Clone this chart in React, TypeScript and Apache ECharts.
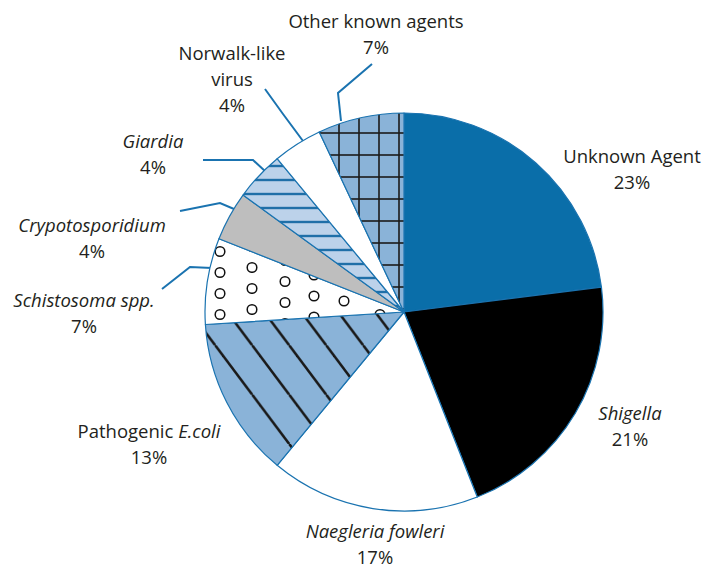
import React, { useEffect, useRef } from "react";
import * as echarts from "echarts";

// ---------- data ----------
const categories = [
  "Unknown Agent",
  "Shigella",
  "Naegleria fowleri",
  "Pathogenic E.coli",
  "Schistosoma spp.",
  "Crypotosporidium",
  "Giardia",
  "Norwalk-like virus",
  "Other known agents",
];
const values = [23, 21, 17, 13, 7, 4, 4, 4, 7];
// label text lines (rich markup: n = normal, i = italic)
const labelNameLines = [
  ["{n|Unknown Agent}"],
  ["{i|Shigella}"],
  ["{i|Naegleria fowleri}"],
  ["{n|Pathogenic }{i|E.coli}"],
  ["{i|Schistosoma spp.}"],
  ["{i|Crypotosporidium}"],
  ["{i|Giardia}"],
  ["{n|Norwalk-like}", "{n|virus}"],
  ["{n|Other known agents}"],
];

// ---------- layout / style ----------
const CX = 404;
const CY = 312;
const R = 199;
const BLUE_LINE = "#1a73b0";
const TEXT = "#231f20";
const FONT = "'Open Sans', sans-serif";
const FS = 18.5;
const LH = 26;

// label centres (offsets from pie centre)
const labelOffsets: [number, number][] = [
  [228, -144],
  [226, 113],
  [-29, 231],
  [-255, 131],
  [-320, 0],
  [-312, -75],
  [-251, -159],
  [-172, -234],
  [-28, -279],
];
// leader lines (offsets from pie centre), null = none
const leaderOffsets: ([number, number][] | null)[] = [
  null,
  null,
  null,
  null,
  [[-192, -44], [-214, -45], [-242, -23]],
  [[-170, -103], [-184, -109], [-224, -101]],
  [[-138, -140], [-151, -152], [-201, -152]],
  [[-101, -171], [-121, -198], [-139, -223]],
  [[-63, -191], [-66, -219], [-32, -248]],
];

function svgUrl(svg: string) {
  return "data:image/svg+xml;charset=utf-8," + encodeURIComponent(svg);
}

function gridPattern() {
  const w = 20, h = 22;
  const svg = `<svg xmlns="http://www.w3.org/2000/svg" width="${w}" height="${h}"><rect width="${w}" height="${h}" fill="#8ab3d8"/><line x1="19" y1="0" x2="19" y2="${h}" stroke="#1a1a1a" stroke-width="1.6"/><line x1="0" y1="1" x2="${w}" y2="1" stroke="#1a1a1a" stroke-width="1.6"/></svg>`;
  return { image: svgUrl(svg), repeat: "repeat", imageWidth: w, imageHeight: h };
}

function diagPattern() {
  const w = 37, h = 49.3333;
  let lines = "";
  for (let k = -2; k <= 1; k++) {
    const x0 = 30.25 + 37 * k;
    lines += `<line x1="${x0}" y1="0" x2="${x0 + 37}" y2="${h}" stroke="#1a1a1a" stroke-width="2.6"/>`;
  }
  const svg = `<svg xmlns="http://www.w3.org/2000/svg" width="${w}" height="${h}"><rect width="${w}" height="${h}" fill="#8ab3d8"/>${lines}</svg>`;
  return { image: svgUrl(svg), repeat: "repeat", imageWidth: w, imageHeight: h };
}

function hlinePattern() {
  const w = 10, h = 14;
  const svg = `<svg xmlns="http://www.w3.org/2000/svg" width="${w}" height="${h}"><rect width="${w}" height="${h}" fill="#bcd2ea"/><line x1="0" y1="12" x2="${w}" y2="12" stroke="#1f6fa8" stroke-width="2.4"/></svg>`;
  return { image: svgUrl(svg), repeat: "repeat", imageWidth: w, imageHeight: h };
}

function circlePattern() {
  const w = 160, h = 21;
  const cols: [number, number][] = [[60, 20.5], [92, 15.5], [125, 8.5], [154, 2], [24, 7]];
  let circles = "";
  cols.forEach(([x, y]) => {
    for (const dy of [-h, 0, h]) {
      for (const dx of [-w, 0, w]) {
        circles += `<circle cx="${x + dx}" cy="${y + dy}" r="4.8" fill="none" stroke="#111" stroke-width="1.5"/>`;
      }
    }
  });
  const svg = `<svg xmlns="http://www.w3.org/2000/svg" width="${w}" height="${h}"><rect width="${w}" height="${h}" fill="#ffffff"/>${circles}</svg>`;
  return { image: svgUrl(svg), repeat: "repeat", imageWidth: w, imageHeight: h };
}

export default function App() {
  const ref = useRef<HTMLDivElement>(null);
  useEffect(() => {
    if (!ref.current) return;
    const chart = echarts.init(ref.current, null, { renderer: "svg" });
    const fills: any[] = [
      "#0a6ea9",
      "#000000",
      "#ffffff",
      diagPattern(),
      circlePattern(),
      "#bebebe",
      hlinePattern(),
      "#ffffff",
      gridPattern(),
    ];
    const data = categories.map((name, i) => ({
      name,
      value: values[i],
      itemStyle: { color: fills[i] },
      labelLine: { show: leaderOffsets[i] != null },
    }));
    chart.setOption({
      animation: false,
      series: [
        {
          type: "pie",
          center: [CX, CY],
          radius: [0, R],
          startAngle: 90,
          clockwise: true,
          silent: true,
          avoidLabelOverlap: false,
          itemStyle: { borderColor: BLUE_LINE, borderWidth: 1.2 },
          emphasis: { disabled: true },
          label: {
            show: true,
            position: "outside",
            color: TEXT,
            fontFamily: FONT,
            fontSize: FS,
            lineHeight: LH,
            formatter: (p: any) =>
              labelNameLines[p.dataIndex].join("\n") + "\n{n|" + Math.round(p.value) + "%}",
            rich: {
              n: { fontFamily: FONT, fontSize: FS, lineHeight: LH, color: TEXT },
              i: { fontFamily: FONT, fontSize: FS, lineHeight: LH, color: TEXT, fontStyle: "italic" },
            },
          },
          labelLine: {
            show: true,
            length: 10,
            length2: 10,
            smooth: false,
            lineStyle: { color: BLUE_LINE, width: 2 },
          },
          labelLayout: (params: any) => {
            const i = params.dataIndex;
            const o = labelOffsets[i];
            const res: any = {
              x: CX + o[0],
              y: CY + o[1],
              align: "center",
              verticalAlign: "middle",
            };
            const l = leaderOffsets[i];
            if (l) res.labelLinePoints = l.map(([dx, dy]) => [CX + dx, CY + dy]);
            return res;
          },
          data,
        },
      ],
    });
    return () => chart.dispose();
  }, []);
  return (
    <div
      ref={ref}
      style={{ position: "absolute", left: 0, top: 0, width: 708, height: 569, background: "#fff" }}
    />
  );
}
